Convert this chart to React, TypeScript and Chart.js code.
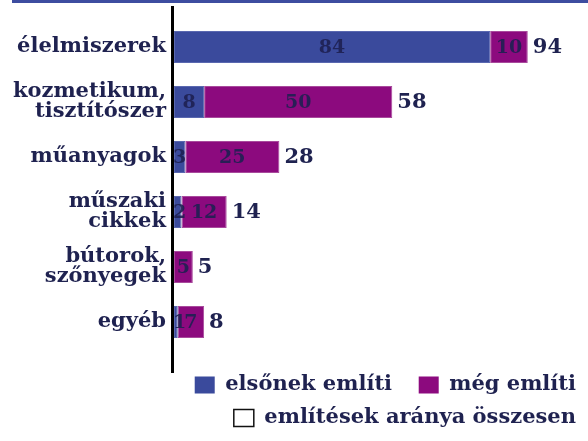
import React, { useEffect, useRef } from 'react';
import { Chart, registerables } from 'chart.js';

Chart.register(...registerables);

const categories: string[][] = [
  ['élelmiszerek'],
  ['kozmetikum,', 'tisztítószer'],
  ['műanyagok'],
  ['műszaki', 'cikkek'],
  ['bútorok,', 'szőnyegek'],
  ['egyéb'],
];
const firstMention = [84, 8, 3, 2, 0, 1];
const otherMention = [10, 50, 25, 12, 5, 7];
const totalMention = [94, 58, 28, 14, 5, 8];
const seriesNames = ['elsőnek említi', 'még említi'];
const totalLegend = 'említések aránya összesen';

const BLUE = '#3a4a9c';
const PURPLE = '#8c0a7e';
const NAVY = '#1f2250';
const FONT = "'DejaVu Serif', serif";

const decor = {
  id: 'decor',
  beforeDraw(chart: any) {
    const ctx = chart.ctx;
    ctx.save();
    ctx.fillStyle = '#3d4da0';
    ctx.fillRect(12, 0, chart.width - 12, 3);
    ctx.restore();
  },
  afterDatasetsDraw(chart: any) {
    const ctx = chart.ctx;
    const { left } = chart.chartArea;
    ctx.save();
    ctx.fillStyle = '#000';
    ctx.fillRect(left - 3, 6, 3, 367);
    ctx.font = `bold 19px ${FONT}`;
    ctx.textAlign = 'center';
    ctx.textBaseline = 'middle';
    chart.data.datasets.forEach((ds: any, di: number) => {
      const meta = chart.getDatasetMeta(di);
      meta.data.forEach((bar: any, i: number) => {
        const v = ds.data[i];
        if (!v) return;
        const { x, y, base } = bar.getProps(['x', 'y', 'base'], true);
        const s = String(v);
        const w = ctx.measureText(s).width;
        const cx = Math.max((x + base) / 2, base + w / 2 - 1);
        ctx.fillStyle = 'rgba(30,32,82,0.9)';
        ctx.fillText(s, cx, y + 1);
      });
    });
    const last = chart.getDatasetMeta(1);
    ctx.textAlign = 'left';
    ctx.font = `bold 21px ${FONT}`;
    ctx.fillStyle = NAVY;
    last.data.forEach((bar: any, i: number) => {
      ctx.fillText(String(totalMention[i]), bar.x + 5, bar.y + 1);
    });
    ctx.restore();
  },
};

export default function App() {
  const ref = useRef<HTMLCanvasElement | null>(null);
  useEffect(() => {
    if (!ref.current) return;
    const chart = new Chart(ref.current, {
      type: 'bar',
      data: {
        labels: categories,
        datasets: [
          {
            label: seriesNames[0],
            data: firstMention,
            backgroundColor: BLUE,
            borderColor: '#5a68b0',
            borderWidth: 1,
            borderSkipped: false,
          },
          {
            label: seriesNames[1],
            data: otherMention,
            backgroundColor: PURPLE,
            borderColor: '#a84a9c',
            borderWidth: 1,
            borderSkipped: false,
          },
        ],
      },
      options: {
        indexAxis: 'y',
        animation: false,
        responsive: false,
        maintainAspectRatio: false,
        layout: { padding: { left: 0, right: 0, top: 19.5, bottom: 2.5 } },
        datasets: { bar: { barPercentage: 0.58, categoryPercentage: 1 } },
        scales: {
          x: {
            stacked: true,
            min: 0,
            max: 110,
            display: true,
            grid: { display: false, drawTicks: false },
            border: { display: false },
            ticks: { display: false },
            afterFit: (scale: any) => {
              scale.height = 13;
            },
          },
          y: {
            stacked: true,
            grid: { display: false, drawTicks: false },
            border: { display: false },
            ticks: {
              color: NAVY,
              padding: 8,
              font: { family: FONT, size: 21, weight: 'bold', lineHeight: 0.95 },
            },
            afterFit: (scale: any) => {
              scale.width = 174;
            },
          },
        },
        plugins: {
          tooltip: { enabled: false },
          legend: {
            display: true,
            position: 'bottom',
            align: 'end',
            labels: {
              color: NAVY,
              font: { family: FONT, size: 21, weight: 'bold' },
              boxWidth: 20,
              boxHeight: 17,
              padding: 12,
              generateLabels: (chart: any) => {
                const items = Chart.defaults.plugins.legend.labels.generateLabels(chart);
                items.forEach((it: any) => {
                  it.lineWidth = 0;
                  it.strokeStyle = it.fillStyle;
                });
                if (items[0]) items[0].text = items[0].text + '  ';
                items.push({
                  text: totalLegend,
                  fillStyle: '#ffffff',
                  strokeStyle: '#111111',
                  lineWidth: 1.5,
                  hidden: false,
                  datasetIndex: -1,
                  fontColor: NAVY,
                } as any);
                return items;
              },
            },
          },
        },
      },
      plugins: [decor],
    });
    return () => chart.destroy();
  }, []);
  return (
    <div style={{ position: 'fixed', left: 0, top: 0, width: 588, height: 441, background: '#fff' }}>
      <canvas ref={ref} width={588} height={441} style={{ width: 588, height: 441 }} />
    </div>
  );
}
